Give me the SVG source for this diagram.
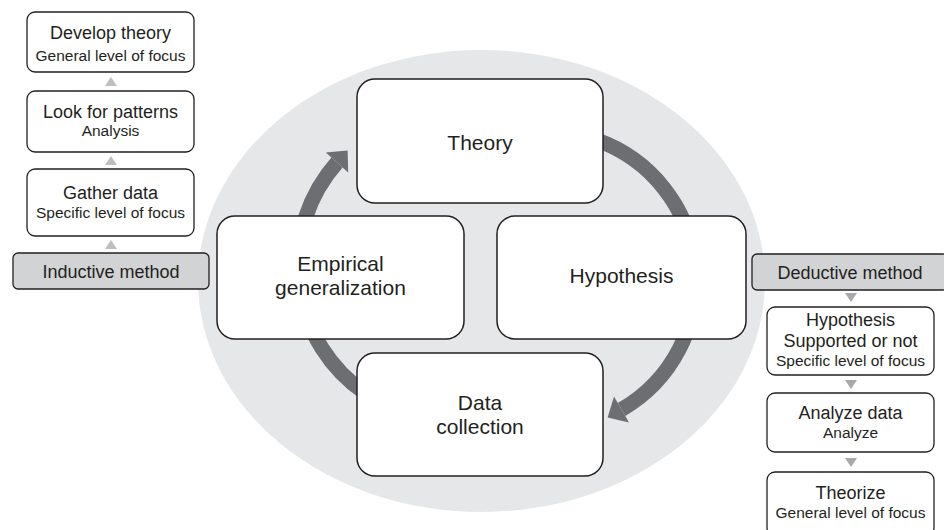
<svg xmlns="http://www.w3.org/2000/svg" width="944" height="530" viewBox="0 0 944 530">
<style>
text{font-family:"Liberation Sans",Arial,sans-serif;fill:#231f20;text-anchor:middle}
.main{fill:#fff;stroke:#231f20;stroke-width:1.5}
.small{fill:#fff;stroke:#231f20;stroke-width:1.3}
.method{fill:#d1d3d4;stroke:#231f20;stroke-width:1.3}
.big{font-size:21px}
.t1{font-size:18px}
.t2{font-size:15.5px}
.arc{fill:none;stroke:#6d6e71;stroke-width:15}
.head{fill:#6d6e71}
.up{fill:#bcbec0}
.down{fill:#a7a9ac}
</style>
<ellipse cx="481.5" cy="281" rx="283.5" ry="231" fill="#e6e7e8"/>
<g id="connectors">
<path class="arc" d="M 596.3 139.9 A 149 149 0 0 1 621.5 409.5"/>
<polygon class="head" points="614,396.5 629,422.5 607.6,417.5"/>
<path class="arc" d="M 365 392.9 A 155 155 0 0 1 337 162.5"/>
<polygon class="head" points="325.8,152.5 348.2,172.5 347.6,150.5"/>
<polygon class="up" points="111,77 117,86 105,86"/>
<polygon class="up" points="111,156 117,165 105,165"/>
<polygon class="up" points="111,240 117,249 105,249"/>
<polygon class="down" points="845,293 857,293 851,302"/>
<polygon class="down" points="845,380 857,380 851,389"/>
<polygon class="down" points="845,458 857,458 851,467"/>
</g>
<g id="theory">
<rect class="main" x="357" y="79" width="246" height="124" rx="18"/>
<text class="big" x="480" y="150">Theory</text>
</g>
<g id="empirical">
<rect class="main" x="217" y="216" width="247" height="123" rx="18"/>
<text class="big" x="340.5" y="271">Empirical</text>
<text class="big" x="340.5" y="295">generalization</text>
</g>
<g id="hypothesis">
<rect class="main" x="497" y="216" width="249" height="123" rx="18"/>
<text class="big" x="621.5" y="283">Hypothesis</text>
</g>
<g id="data-collection">
<rect class="main" x="357" y="353" width="246" height="123" rx="18"/>
<text class="big" x="480" y="410">Data</text>
<text class="big" x="480" y="434">collection</text>
</g>
<g id="develop-theory">
<rect class="small" x="27" y="12" width="167" height="60" rx="8"/>
<text class="t1" x="110.5" y="39">Develop theory</text>
<text class="t2" x="110.5" y="60.5">General level of focus</text>
</g>
<g id="look-for-patterns">
<rect class="small" x="27" y="91" width="167" height="61" rx="8"/>
<text class="t1" x="110.5" y="118">Look for patterns</text>
<text class="t2" x="110.5" y="135.5">Analysis</text>
</g>
<g id="gather-data">
<rect class="small" x="27" y="169" width="167" height="67" rx="8"/>
<text class="t1" x="110.5" y="199">Gather data</text>
<text class="t2" x="110.5" y="217.5">Specific level of focus</text>
</g>
<g id="inductive-method">
<rect class="method" x="13" y="253" width="196" height="36" rx="5"/>
<text class="t1" x="111" y="278">Inductive method</text>
</g>
<g id="deductive-method">
<rect class="method" x="752" y="254" width="196" height="36" rx="5"/>
<text class="t1" x="850" y="279">Deductive method</text>
</g>
<g id="hypothesis-supported">
<rect class="small" x="767" y="307" width="167" height="68" rx="8"/>
<text class="t1" x="850.5" y="326">Hypothesis</text>
<text class="t1" x="850.5" y="347">Supported or not</text>
<text class="t2" x="850.5" y="365.5">Specific level of focus</text>
</g>
<g id="analyze-data">
<rect class="small" x="767" y="393" width="167" height="59" rx="8"/>
<text class="t1" x="850.5" y="419">Analyze data</text>
<text class="t2" x="850.5" y="437.5">Analyze</text>
</g>
<g id="theorize">
<rect class="small" x="767" y="472" width="167" height="64" rx="8"/>
<text class="t1" x="850.5" y="499">Theorize</text>
<text class="t2" x="850.5" y="517.5">General level of focus</text>
</g>
</svg>
